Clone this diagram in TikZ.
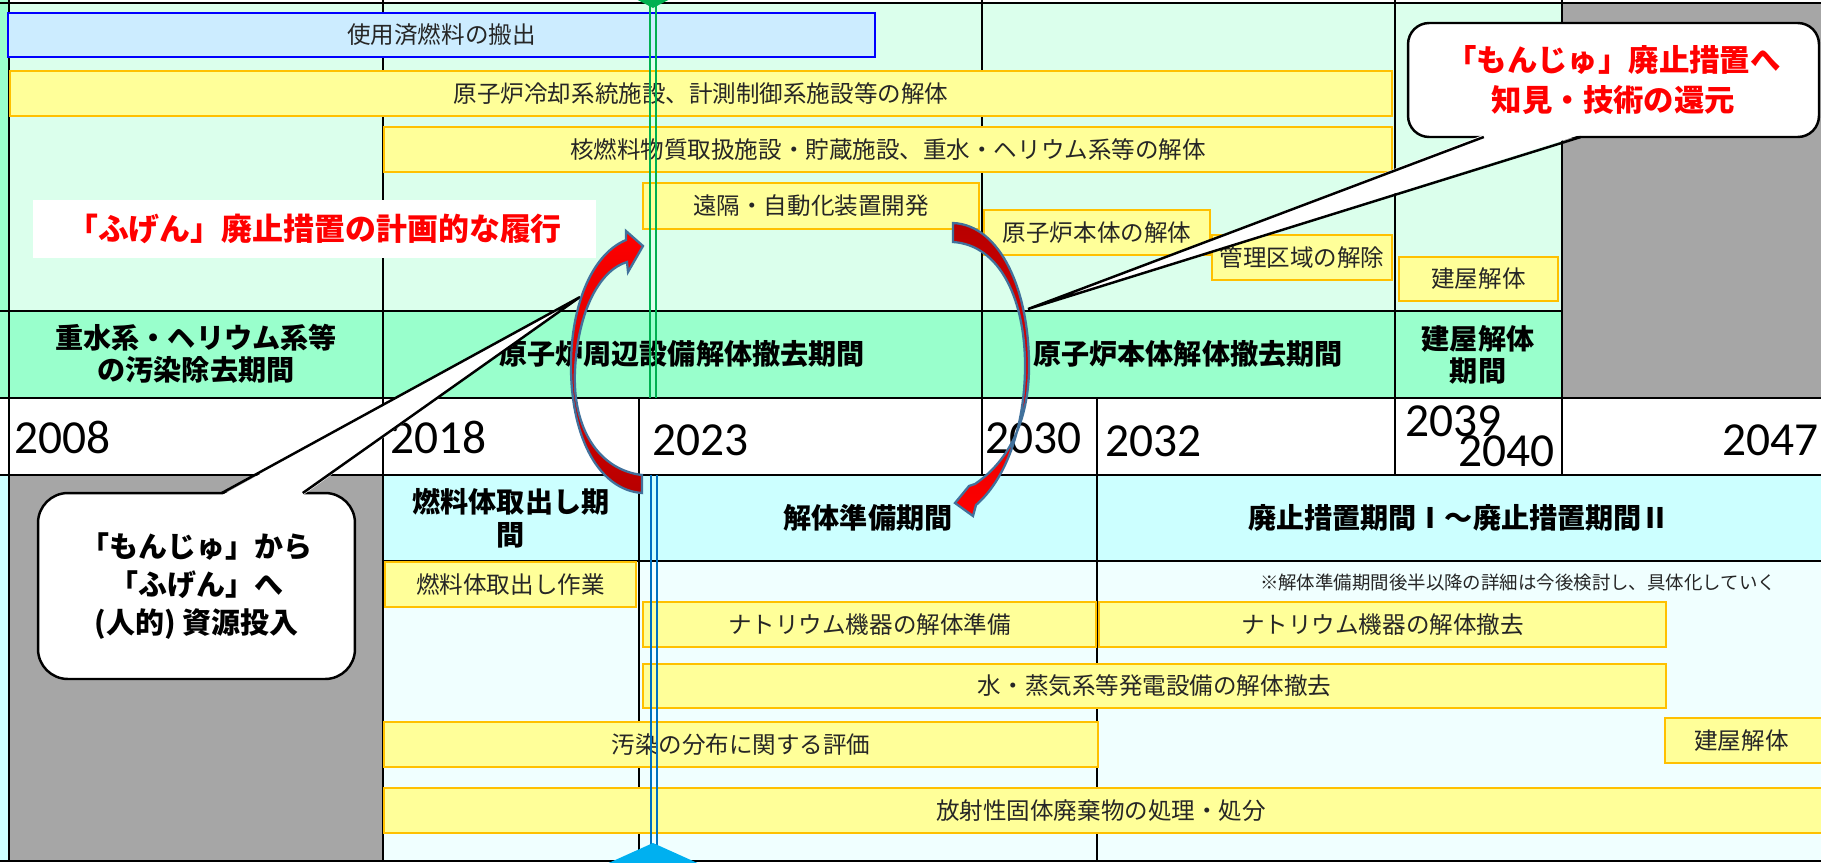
\documentclass[tikz,border=0pt]{standalone}
\usepackage{fontspec}
\setmainfont{Noto Sans CJK JP}
\newfontfamily\yearfont{Carlito}
\usetikzlibrary{shadings}

\definecolor{topbg}{RGB}{219,255,236}
\definecolor{bandbg}{RGB}{153,255,204}
\definecolor{lowhead}{RGB}{204,255,255}
\definecolor{lowbg}{RGB}{240,255,255}
\definecolor{cellgray}{RGB}{166,166,166}
\definecolor{barfill}{RGB}{255,255,153}
\definecolor{barline}{RGB}{255,192,0}
\definecolor{bluefill}{RGB}{204,236,255}
\definecolor{arrowline}{RGB}{65,113,156}
\definecolor{markgreen}{RGB}{0,176,80}
\definecolor{markblue}{RGB}{0,112,192}
\definecolor{markcyan}{RGB}{0,176,240}

\begin{document}
\begin{tikzpicture}[x=0.02cm,y=-0.02cm,
        gridline/.style={line width=1.4pt},
        yellowbar/.style={draw=barline,fill=barfill,line width=1.2pt},
        bluebar/.style={draw=blue,fill=bluefill,line width=1.1pt},
        bartext/.style={font=\fontsize{13.4}{16}\selectfont,text=black!85},
        periodtext/.style={font=\bfseries\fontsize{16}{18.5}\selectfont,align=center},
        yeartext/.style={font=\yearfont\fontsize{27}{28}\selectfont,inner sep=0pt},
        speech/.style={draw,fill=white,line width=1.4pt,align=center},
        bentarrow/.style={draw=arrowline,line width=1.3pt}]
    \useasboundingbox (0,0) rectangle (1821,862);

    % cell backgrounds
    \fill[bandbg] (0,0) rectangle (9,398);
    \fill[topbg] (9,3) rectangle (1562,311);
    \fill[bandbg] (9,311) rectangle (1562,398);
    \fill[cellgray] (1562,3) rectangle (1821,398);
    \fill[white] (0,398) rectangle (1821,475);
    \fill[lowhead] (0,475) rectangle (9,862);
    \fill[cellgray] (9,475) rectangle (383,862);
    \fill[lowhead] (383,475) rectangle (1821,561);
    \fill[lowbg] (383,561) rectangle (1821,862);

    % table lines
    \draw[gridline] (0,3) -- (1821,3);
    \draw[gridline] (0,311) -- (1562,311);
    \draw[gridline] (0,398) -- (1821,398);
    \draw[gridline] (0,475) -- (1821,475);
    \draw[gridline] (383,561) -- (1821,561);
    \draw[gridline] (0,861) -- (1821,861);
    \foreach \x/\ya/\yb in {9/0/862, 383/0/862, 639/398/862, 982/0/475, 1097/398/862, 1395/0/475, 1562/0/475}
        \draw[gridline] (\x,\ya) -- (\x,\yb);

    % upper bars
    \draw[bluebar] (8,13) rectangle (875,57) node[pos=.5,bartext] (spentfuel) {使用済燃料の搬出};
    \draw[yellowbar] (10,71) rectangle (1392,116) node[pos=.5,bartext] (cooling) {原子炉冷却系統施設、計測制御系施設等の解体};
    \draw[yellowbar] (384,127) rectangle (1392,172) node[pos=.5,bartext] (fuelhandling) {核燃料物質取扱施設・貯蔵施設、重水・ヘリウム系等の解体};
    \draw[yellowbar] (643,183) rectangle (979,229) node[pos=.5,bartext] (remote) {遠隔・自動化装置開発};
    \draw[yellowbar] (984,210) rectangle (1210,255) node[pos=.5,bartext] (corebody) {原子炉本体の解体};
    \draw[yellowbar] (1212,235) rectangle (1392,280) node[pos=.5,bartext] (controlarea) {管理区域の解除};
    \draw[yellowbar] (1399,257) rectangle (1558,301) node[pos=.5,bartext] (buildingA) {建屋解体};

    % lower bars
    \draw[yellowbar] (385,562) rectangle (636,607) node[pos=.5,bartext] (fuelwork) {燃料体取出し作業};
    \draw[yellowbar] (643,602) rectangle (1096,647) node[pos=.5,bartext] (naprep) {ナトリウム機器の解体準備};
    \draw[yellowbar] (1099,602) rectangle (1666,647) node[pos=.5,bartext] (naremove) {ナトリウム機器の解体撤去};
    \draw[yellowbar] (643,664) rectangle (1666,708) node[pos=.5,bartext] (steam) {水・蒸気系等発電設備の解体撤去};
    \draw[yellowbar] (384,722) rectangle (1098,767) node[pos=.5,bartext] (contam) {汚染の分布に関する評価};
    \draw[yellowbar] (1665,718) rectangle (1825,763) node[pos=.5,bartext,xshift=-2pt] (buildingB) {建屋解体};
    \draw[yellowbar] (384,788) rectangle (1825,833) node[pos=.5,bartext,xshift=-2pt] (waste) {放射性固体廃棄物の処理・処分};

    % period names
    \node[periodtext] (heavywater) at (196,354) {重水系・ヘリウム系等\\の汚染除去期間};
    \node[periodtext] (periphery) at (682,354) {原子炉周辺設備解体撤去期間};
    \node[periodtext] (reactorbody) at (1188,354) {原子炉本体解体撤去期間};
    \node[periodtext] (buildingperiod) at (1478,355) {建屋解体\\期間};
    \node[periodtext] (fuelout) at (511,518) {燃料体取出し期\\間};
    \node[periodtext] (prepperiod) at (868,518) {解体準備期間};
    \node[periodtext] (decomperiod) at (1459,518) {廃止措置期間Ⅰ～廃止措置期間Ⅱ};
    \node[font=\fontsize{10.5}{12}\selectfont,text=black!85] (note) at (1518,582) {※解体準備期間後半以降の詳細は今後検討し、具体化していく};

    % years
    \node[yeartext,anchor=base west] (y2008) at (14,453) {2008};
    \node[yeartext,anchor=base west] (y2018) at (390,453) {2018};
    \node[yeartext,anchor=base west] (y2023) at (652,455) {2023};
    \node[yeartext,anchor=base west] (y2030) at (985,453) {2030};
    \node[yeartext,anchor=base west] (y2032) at (1105,456) {2032};
    \node[yeartext,anchor=base west] (y2039) at (1405,436) {2039};
    \node[yeartext,anchor=base east] (y2040) at (1555,466) {2040};
    \node[yeartext,anchor=base east] (y2047) at (1819,455) {2047};

    % present-day markers
    \foreach \x in {650,656}
        \draw[markgreen,line width=0.9pt] (\x,0) -- (\x,398);
    \fill[markgreen] (632,-3) -- (674,-3) -- (653,8) -- cycle;
    \foreach \x in {651,657}
        \draw[markblue,line width=0.9pt] (\x,475) -- (\x,850);
    \fill[markcyan] (653,843) -- (713,870) -- (593,870) -- cycle;

    \node[fill=white,text=red,font=\bfseries\fontsize{17.6}{20}\selectfont,minimum width=11.26cm,minimum height=1.16cm] (fugentitle) at (314.5,229) {「ふげん」廃止措置の計画的な履行};

    % callouts
    \node[speech,rounded corners=17pt,minimum width=6.34cm,minimum height=3.72cm,font=\bfseries\fontsize{16.5}{21.5}\selectfont] (tofugen) at (196.5,586) {「もんじゅ」から\\「ふげん」へ\\(人的) 資源投入};
    \coordinate (fugentip) at (580,297);
    \fill[white] ([xshift=3.7cm,yshift=-2pt]tofugen.north west) -- (fugentip) -- ([xshift=5.32cm,yshift=-2pt]tofugen.north west) -- cycle;
    \draw[line width=1.4pt] ([xshift=3.7cm,yshift=-0.7pt]tofugen.north west) -- (fugentip) -- ([xshift=5.32cm,yshift=-0.7pt]tofugen.north west);

    \node[speech,rounded corners=12pt,text=red,minimum width=8.22cm,minimum height=2.28cm,font=\bfseries\fontsize{17.3}{22.7}\selectfont] (tomonju) at (1613.5,80) {「もんじゅ」廃止措置へ\\知見・技術の還元};
    \coordinate (monjutip) at (1028,309);
    \fill[white] ([xshift=1.54cm,yshift=2pt]tomonju.south west) -- (monjutip) -- ([xshift=3.48cm,yshift=2pt]tomonju.south west) -- cycle;
    \draw[line width=1.4pt] ([xshift=1.54cm,yshift=0.7pt]tomonju.south west) -- (monjutip) -- ([xshift=3.48cm,yshift=0.7pt]tomonju.south west);

    % curved arrows
    \draw[bentarrow,top color=red,bottom color=red!72!black]
        (642,475) .. controls (600,470) and (572,430) .. (575,370)
        .. controls (578,310) and (600,270) .. (627,262)
        -- (628,272) -- (643,246) -- (626,231) -- (626,240)
        .. controls (590,255) and (570,310) .. (571,370)
        .. controls (572,440) and (600,490) .. (642,493) -- cycle;
    \draw[bentarrow,top color=red!72!black,bottom color=red]
        (953,223) .. controls (1000,225) and (1030,290) .. (1029,370)
        .. controls (1028,420) and (1010,460) .. (975,484)
        -- (969,486) -- (955,503) -- (973,516) -- (976,505)
        .. controls (1005,480) and (1024,430) .. (1025,370)
        .. controls (1026,300) and (1000,245) .. (953,242) -- cycle;
\end{tikzpicture}
\end{document}
